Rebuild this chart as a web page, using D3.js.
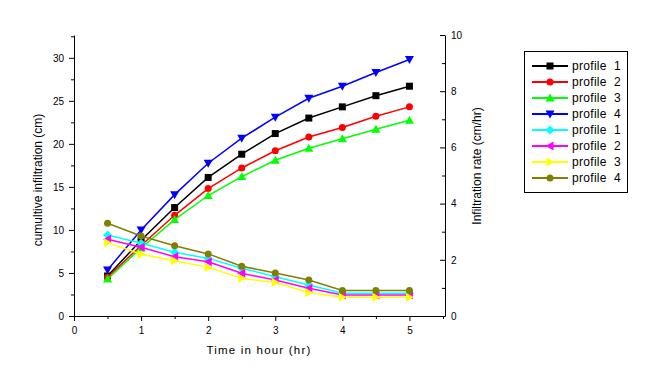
<!DOCTYPE html>
<html>
<head>
<meta charset="utf-8">
<script src="https://cdn.jsdelivr.net/npm/d3@7"></script>
<style>
  body { margin: 0; background: #fff; }
  text { font-family: "Liberation Sans", Arial, sans-serif; }
</style>
</head>
<body>
<svg id="chart" width="658" height="388"></svg>
<script>
var hours = [0.5, 1, 1.5, 2, 2.5, 3, 3.5, 4, 4.5, 5];

// cumulative infiltration (cm), left axis
var cum1 = [4.65, 8.8, 12.6, 16.1, 18.8, 21.2, 23.0, 24.3, 25.6, 26.7];
var cum2 = [4.5, 8.2, 11.7, 14.8, 17.2, 19.2, 20.8, 21.9, 23.2, 24.3];
var cum3 = [4.3, 7.9, 11.2, 14.0, 16.2, 18.1, 19.5, 20.6, 21.7, 22.75];
var cum4 = [5.35, 10.0, 14.1, 17.75, 20.66, 23.1, 25.3, 26.7, 28.3, 29.8];

// infiltration rate (cm/hr), right axis
var rate1 = [2.88, 2.59, 2.27, 2.05, 1.70, 1.40, 1.10, 0.81, 0.81, 0.81];
var rate2 = [2.73, 2.45, 2.11, 1.93, 1.52, 1.28, 0.99, 0.75, 0.75, 0.75];
var rate3 = [2.61, 2.2, 1.97, 1.73, 1.34, 1.19, 0.84, 0.67, 0.67, 0.67];
var rate4 = [3.30, 2.85, 2.50, 2.21, 1.77, 1.53, 1.28, 0.91, 0.91, 0.91];

var xTicks = [0, 1, 2, 3, 4, 5];
var leftTicks = [0, 5, 10, 15, 20, 25, 30];
var rightTicks = [0, 2, 4, 6, 8, 10];

var series = [
  { name: "profile 1", values: cum1, axis: "left", color: "#000000", symbol: "square" },
  { name: "profile 2", values: cum2, axis: "left", color: "#ff0000", symbol: "circle" },
  { name: "profile 3", values: cum3, axis: "left", color: "#00ff00", symbol: "up" },
  { name: "profile 4", values: cum4, axis: "left", color: "#0000ff", symbol: "down" },
  { name: "profile 1", values: rate1, axis: "right", color: "#00ffff", symbol: "diamond" },
  { name: "profile 2", values: rate2, axis: "right", color: "#ff00ff", symbol: "left" },
  { name: "profile 3", values: rate3, axis: "right", color: "#ffff00", symbol: "right" },
  { name: "profile 4", values: rate4, axis: "right", color: "#808000", symbol: "circle" }
];

var svg = d3.select("#chart");

var x = d3.scaleLinear().domain([0, 5.53]).range([74, 445]);
var yL = d3.scaleLinear().domain([0, 32.65]).range([316, 35]);
var yR = d3.scaleLinear().domain([0, 10]).range([316, 35]);

function styleAxis(g) {
  g.selectAll("path, line").attr("stroke", "#000").attr("stroke-width", 1);
  g.selectAll("text").attr("fill", "#000").style("font-size", "10px")
    .style("font-family", "'Liberation Sans', Arial, sans-serif");
}

// minor ticks first, then major axes on top
svg.append("g")
    .attr("transform", "translate(0,316)")
    .call(d3.axisBottom(x).tickValues(d3.range(0.5, 5.6, 1)).tickSize(3).tickFormat("").tickSizeOuter(0))
    .call(styleAxis)
    .select(".domain").remove();
svg.append("g")
    .attr("transform", "translate(74,0)")
    .call(d3.axisLeft(yL).tickValues(d3.range(2.5, 32.6, 5)).tickSize(3).tickFormat("").tickSizeOuter(0))
    .call(styleAxis)
    .select(".domain").remove();
svg.append("g")
    .attr("transform", "translate(445,0)")
    .call(d3.axisRight(yR).tickValues([1, 3, 5, 7, 9]).tickSize(-3).tickFormat("").tickSizeOuter(0))
    .call(styleAxis)
    .select(".domain").remove();

svg.append("g")
    .attr("transform", "translate(0,316)")
    .call(d3.axisBottom(x).tickValues(xTicks).tickFormat(d3.format("d")).tickSize(5).tickPadding(6).tickSizeOuter(0))
    .call(styleAxis);

svg.append("g")
    .attr("transform", "translate(74,0)")
    .call(d3.axisLeft(yL).tickValues(leftTicks).tickFormat(d3.format("d")).tickSize(5).tickPadding(5).tickSizeOuter(0))
    .call(styleAxis);

svg.append("g")
    .attr("transform", "translate(445,0)")
    .call(d3.axisRight(yR).tickValues(rightTicks).tickFormat(d3.format("d")).tickSize(-5).tickPadding(6).tickSizeOuter(0))
    .call(styleAxis);

// axis titles
svg.append("text")
    .attr("x", 259).attr("y", 354)
    .attr("text-anchor", "middle")
    .style("font-size", "11.5px")
    .style("letter-spacing", "1.2px")
    .text("Time in hour (hr)");

svg.append("text")
    .attr("transform", "translate(42,180) rotate(-90)")
    .attr("text-anchor", "middle")
    .style("font-size", "12px")
    .text("cumultive infiltration (cm)");

svg.append("text")
    .attr("transform", "translate(481,166) rotate(-90)")
    .attr("text-anchor", "middle")
    .style("font-size", "12px")
    .text("Infiltration rate (cm/hr)");

var symbolPath = function(kind, s) {
  var h = s / 2;
  if (kind === "square") return d3.symbol(d3.symbolSquare, s * s)();
  if (kind === "circle") return d3.symbol(d3.symbolCircle, Math.PI * h * h)();
  if (kind === "diamond") return "M0," + (-h - 1) + "L" + (h + 1) + ",0L0," + (h + 1) + "L" + (-h - 1) + ",0Z";
  if (kind === "up") return "M0," + (-h - 1) + "L" + (h + 1) + "," + h + "L" + (-h - 1) + "," + h + "Z";
  if (kind === "down") return "M0," + (h + 1) + "L" + (h + 1) + "," + (-h) + "L" + (-h - 1) + "," + (-h) + "Z";
  if (kind === "left") return "M" + (-h - 1) + ",0L" + h + "," + (-h - 1) + "L" + h + "," + (h + 1) + "Z";
  return "M" + (h + 1) + ",0L" + (-h) + "," + (-h - 1) + "L" + (-h) + "," + (h + 1) + "Z";
};

var plot = svg.append("g");

series.forEach(function(s) {
  var y = s.axis === "left" ? yL : yR;
  var line = d3.line()
    .x(function(d, i) { return x(hours[i]); })
    .y(function(d) { return y(d); });

  var g = plot.append("g");
  g.append("path")
    .attr("fill", "none")
    .attr("stroke", s.color)
    .attr("stroke-width", 1.5)
    .attr("d", line(s.values));

  g.selectAll(".pt")
    .data(s.values)
    .enter().append("path")
    .attr("class", "pt")
    .attr("transform", function(d, i) { return "translate(" + x(hours[i]) + "," + y(d) + ")"; })
    .attr("fill", s.color)
    .attr("d", symbolPath(s.symbol, 7));
});

// legend
var legend = svg.append("g");
legend.append("rect")
    .attr("x", 524.5).attr("y", 51.5)
    .attr("width", 103).attr("height", 141)
    .attr("fill", "none")
    .attr("stroke", "#000")
    .attr("stroke-width", 1);

series.forEach(function(s, i) {
  var ly = 66 + i * 16;
  legend.append("line")
    .attr("x1", 532).attr("x2", 568)
    .attr("y1", ly).attr("y2", ly)
    .attr("stroke", s.color)
    .attr("stroke-width", 2);
  legend.append("path")
    .attr("transform", "translate(550," + ly + ")")
    .attr("fill", s.color)
    .attr("d", symbolPath(s.symbol, 7));
  legend.append("text")
    .attr("x", 572).attr("y", ly + 4)
    .style("font-size", "12px")
    .style("letter-spacing", "0.3px")
    .text(s.name.replace(" ", "  "))
    .attr("xml:space", "preserve");
});
</script>
</body>
</html>
